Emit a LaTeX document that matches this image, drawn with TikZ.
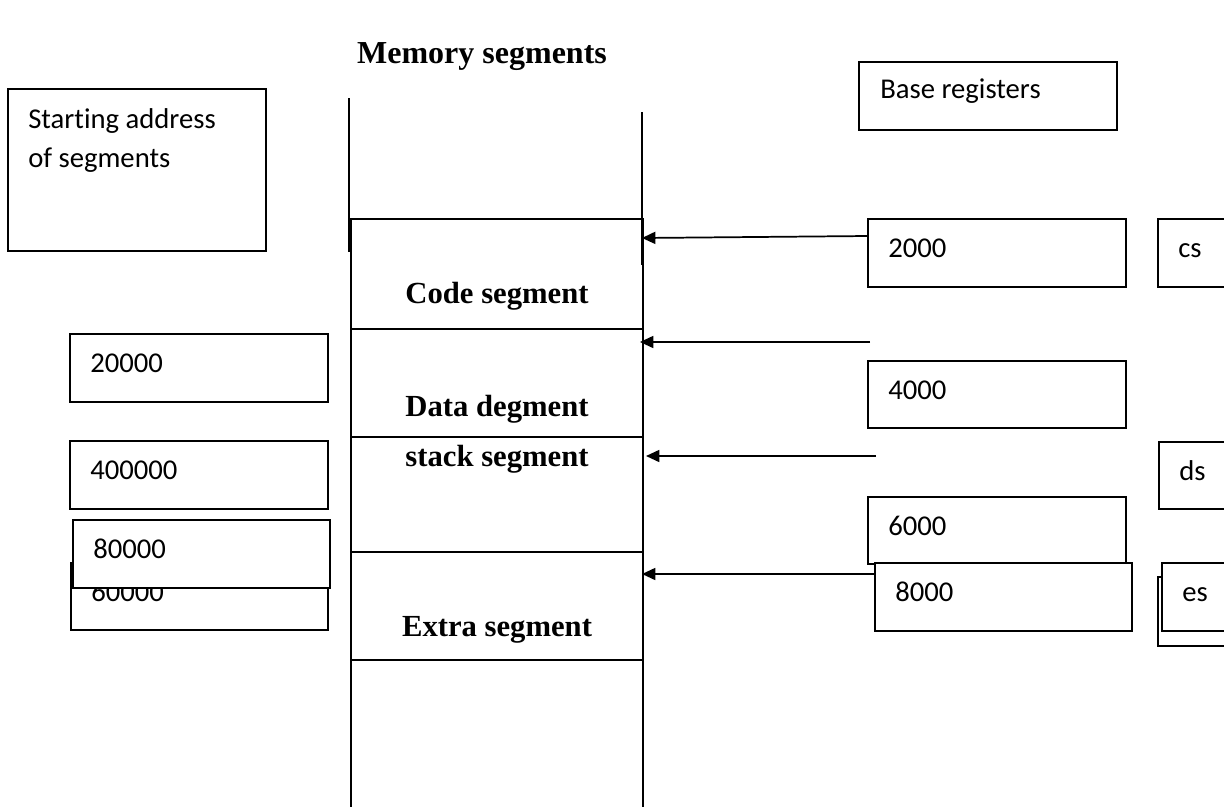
\documentclass[tikz,border=0pt]{standalone}
\usepackage{fontspec}
\setmainfont{Liberation Serif}
\newfontfamily\carlito[Ligatures=NoCommon]{Carlito}
\usetikzlibrary{calc,arrows.meta}

% box with its label set 20px in and 38px down from the top-left corner
\newcommand\labelbox[6]{%
  \node[box, minimum width=#4*0.75pt, minimum height=#5*0.75pt, anchor=north west] (#1) at (#2,#3) {};
  \node[sanslbl] at ($(#1.north west)+(20,38)$) {#6};}

\begin{document}
\begin{tikzpicture}[x=0.75pt,y=-0.75pt,
  box/.style={draw, fill=white, line width=1.4pt, inner sep=0pt, outer sep=0pt},
  sanslbl/.style={inner sep=0pt, anchor=base west, font=\carlito\fontsize{21.5}{25}\selectfont},
  seglbl/.style={inner sep=0pt, anchor=base, font=\bfseries\fontsize{23}{27}\selectfont},
  seg/.style={draw, line width=1.4pt, inner sep=0pt, outer sep=0pt, minimum width=292*0.75pt, anchor=north west},
  wall/.style={line width=1.7pt},
  arr/.style={line width=1.3pt, -{Triangle[length=10pt,width=9pt]}}
]
\useasboundingbox (0,0) rectangle (1224,807);
\clip (0,0) rectangle (1224,807);

% title
\node[seglbl, font=\bfseries\fontsize{24}{28}\selectfont] (title) at (482,63) {Memory segments};

% upper guide lines of the memory column
\coordinate (lt) at (349,98);  \coordinate (lb) at (349,252);
\coordinate (rt) at (642,112); \coordinate (rb) at (642,265);
\draw[wall] (lt) -- (lb);
\draw[wall] (rt) -- (rb);

% memory segments
\node[seg, minimum height=110*0.75pt] (code)  at (351,219) {};
\node[seg, minimum height=108*0.75pt, line width=1pt] (data)  at (351,329) {};
\node[seg, minimum height=115*0.75pt] (stack) at (351,437) {};
\node[seg, minimum height=108*0.75pt] (extra) at (351,552) {};
\coordinate (ebl) at (351,807); \coordinate (ebr) at (643,807);
\draw[line width=1.5pt] (extra.south west) -- (ebl);
\draw[line width=1.5pt] (extra.south east) -- (ebr);

\node[seglbl] at (497,303) {Code segment};
\node[seglbl] at (497,416) {Data degment};
\node[seglbl] at (497,466) {stack segment};
\node[seglbl] at (497,636) {Extra segment};

% left column: starting addresses
\node[box, minimum width=258*0.75pt, minimum height=162*0.75pt, anchor=north west] (start) at (8,89) {};
\node[sanslbl] at ($(start.north west)+(20,39)$) {Starting address};
\node[sanslbl] at ($(start.north west)+(20,78)$) {of segments};

\labelbox{b20000}{70}{334}{258}{68}{20000}
\labelbox{b400000}{70}{441}{258}{68}{400000}
\labelbox{b60000}{71}{563}{257}{67}{60000}
\labelbox{b80000}{73}{520}{257}{68}{80000}

% right column: base registers
\node[box, minimum width=258*0.75pt, minimum height=68*0.75pt, anchor=north west] (base) at (859,62) {};
\node[sanslbl] at ($(base.north west)+(21,36)$) {Base registers};

\labelbox{b2000}{868}{219}{258}{68}{2000}
\labelbox{cs}{1158}{219}{100}{68}{cs}
\labelbox{b4000}{868}{361}{258}{67}{4000}
\labelbox{ds}{1159}{442}{100}{67}{ds}
\labelbox{b6000}{868}{497}{258}{67}{6000}
\labelbox{b8000}{875}{563}{257}{68}{8000}
\node[box, minimum width=100*0.75pt, minimum height=69*0.75pt, anchor=north west] (esback) at (1158,577) {};
\labelbox{es}{1162}{563}{100}{68}{es}

% pointers into the segments
\coordinate (t1) at (642,238);
\coordinate (s2) at (870,342); \coordinate (t2) at (640,342);
\coordinate (s3) at (876,456); \coordinate (t3) at (646,456);
\coordinate (t4) at (642,574);
\draw[arr] ($(b2000.north west)+(0,17)$) -- (t1);
\draw[arr] (s2) -- (t2);
\draw[arr] (s3) -- (t3);
\draw[arr] ($(b8000.north west)+(0,11)$) -- (t4);
\end{tikzpicture}
\end{document}
